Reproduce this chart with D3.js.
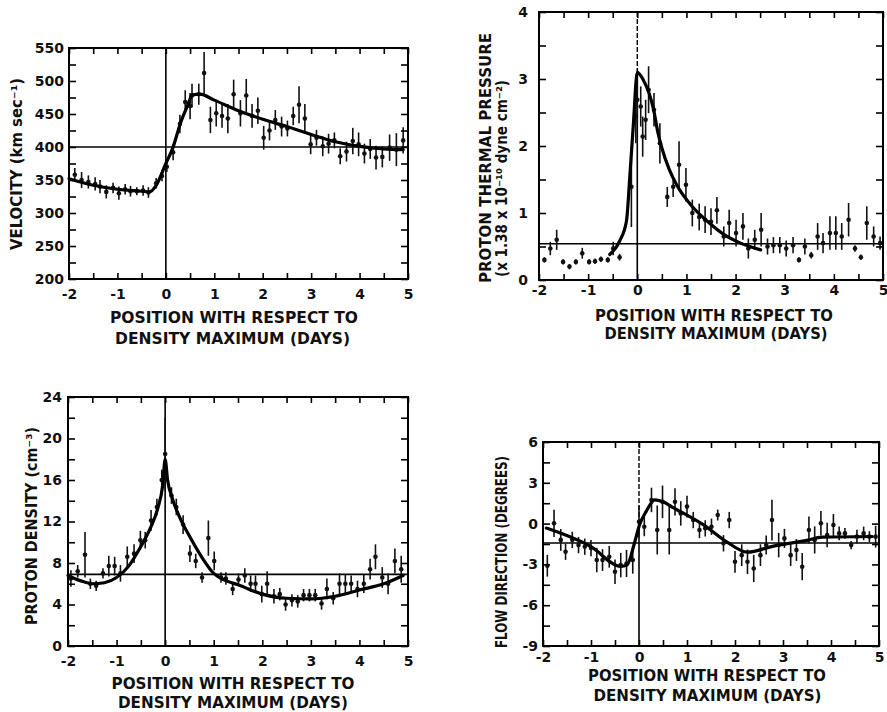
<!DOCTYPE html>
<html><head><meta charset="utf-8">
<script src="https://cdn.jsdelivr.net/npm/d3@7"></script>
<style>body{margin:0;background:#fff} svg{display:block;font-family:"DejaVu Sans",sans-serif}</style>
</head><body><svg id="c" width="887" height="712"></svg>
<script>
// ---------- shared x axis ----------
const xDomain = [-2, 5];
const xTickValues = [-2, -1, 0, 1, 2, 3, 4, 5];
const xMinorValues = [-2, -1.5, -1, -0.5, 0, 0.5, 1, 1.5, 2, 2.5, 3, 3.5, 4, 4.5, 5];
const xTitle1 = "POSITION WITH RESPECT TO";
const xTitle2 = "DENSITY MAXIMUM (DAYS)";

// ---------- velocity ----------
const velDay = [-1.88,-1.74,-1.6,-1.46,-1.36,-1.23,-1.09,-0.97,-0.84,-0.73,-0.6,-0.47,-0.36,-0.2,-0.08,0.02,0.15,0.29,0.4,0.5,0.54,0.68,0.79,0.92,1.04,1.16,1.28,1.4,1.54,1.66,1.78,1.9,2.02,2.14,2.26,2.39,2.51,2.63,2.75,2.87,2.99,3.11,3.24,3.36,3.48,3.6,3.73,3.86,3.98,4.1,4.22,4.34,4.47,4.62,4.76,4.9];
const velVal = [358,350,347,344,340,332,338,330,336,333,333,334,331,345,356,370,392,435,468,462,478,480,512,441,451,447,443,480,451,478,447,455,414,425,441,431,428,447,464,443,404,414,401,405,410,386,393,409,404,390,397,384,385,399,396,410];
const velErr = [10,12,10,10,10,10,8,10,8,8,6,8,8,8,8,8,12,14,18,20,18,16,32,20,20,18,22,22,20,25,18,20,18,15,15,15,12,14,28,22,15,12,15,15,12,12,15,20,18,15,15,18,16,20,25,20];
const velFitDay = [-2,-1.5,-1,-0.5,-0.34,-0.2,0,0.14,0.31,0.45,0.55,0.7,1,1.5,2,2.5,3,3.5,4,4.5,4.9];
const velFitVal = [352,342,336,333,332,342,375,398,438,463,479,480,471,455,442,431,419,408,401,397,396];
const velRef = 400;
const velYTicks = [200,250,300,350,400,450,500,550];
const velYMinor = d3.range(200, 551, 25);

// ---------- proton thermal pressure ----------
const presDay = [-1.89,-1.77,-1.64,-1.51,-1.38,-1.25,-1.12,-0.98,-0.86,-0.74,-0.6,-0.49,-0.36,-0.12,-0.03,0.0,0.07,0.11,0.17,0.23,0.34,0.46,0.61,0.73,0.85,0.99,1.12,1.26,1.38,1.5,1.62,1.76,1.87,2.01,2.15,2.26,2.39,2.52,2.65,2.77,2.9,3.03,3.17,3.29,3.41,3.54,3.67,3.78,3.92,4.04,4.16,4.3,4.43,4.55,4.67,4.81,4.94];
const presVal = [0.3,0.47,0.6,0.27,0.2,0.27,0.4,0.27,0.28,0.31,0.3,0.47,0.34,1.39,2.44,2.69,2.59,2.14,2.39,2.84,2.54,2.04,1.24,1.39,1.72,1.42,1.0,0.94,0.9,0.87,1.04,0.65,0.85,0.7,0.8,0.47,0.6,0.75,0.5,0.52,0.52,0.47,0.52,0.3,0.5,0.37,0.65,0.55,0.7,0.7,0.65,0.9,0.47,0.34,0.85,0.65,0.55];
const presErr = [0.04,0.1,0.15,0.04,0.04,0.04,0.08,0.04,0.04,0.04,0.04,0.1,0.05,0.6,0.4,0.35,0.3,0.3,0.3,0.35,0.25,0.3,0.15,0.15,0.35,0.25,0.2,0.2,0.2,0.2,0.2,0.15,0.2,0.2,0.2,0.15,0.15,0.25,0.12,0.12,0.12,0.12,0.12,0.04,0.12,0.05,0.2,0.15,0.25,0.25,0.2,0.25,0.05,0.04,0.25,0.15,0.1];
const presFitDay = [-0.56,-0.36,-0.22,-0.15,-0.08,0,0.12,0.33,0.42,0.5,0.65,0.8,1.15,1.42,1.76,2.1,2.51];
const presFitVal = [0.38,0.58,0.88,1.57,2.32,3.1,2.99,2.55,2.2,1.97,1.65,1.42,1.07,0.88,0.68,0.55,0.45];
const presRef = 0.54;
const presYTicks = [0,1,2,3,4];
const presYMinor = d3.range(0, 4.01, 0.5);

// ---------- proton density ----------
const densDay = [-1.94,-1.8,-1.65,-1.54,-1.42,-1.28,-1.16,-1.04,-0.92,-0.78,-0.64,-0.51,-0.41,-0.29,-0.17,-0.07,0,0.13,0.23,0.37,0.51,0.63,0.76,0.89,1.01,1.15,1.25,1.39,1.51,1.64,1.76,1.86,1.99,2.1,2.24,2.36,2.48,2.61,2.73,2.85,2.97,3.09,3.22,3.33,3.46,3.59,3.71,3.83,3.96,4.09,4.22,4.33,4.47,4.59,4.73,4.86];
const densVal = [6.5,7.2,8.8,6.0,5.8,7.0,7.7,7.7,7.0,8.6,8.9,10.2,10.2,12.1,13.4,16.0,18.5,14.5,13.4,11.7,8.9,8.2,6.6,10.4,8.2,6.6,6.5,5.5,6.4,6.8,6.0,6.0,5.0,6.0,4.8,5.0,4.0,4.4,4.3,4.9,4.9,4.9,4.1,5.5,4.6,6.0,6.0,6.0,5.5,6.0,7.4,8.6,6.6,6.0,8.2,7.4];
const densErr = [0.8,0.6,2.2,0.5,0.5,0.5,1.0,0.9,0.8,1.0,0.9,0.9,0.8,1.0,0.8,1.0,3.5,0.8,0.8,0.9,0.8,0.7,0.5,1.7,0.9,0.5,0.6,0.6,0.6,0.7,0.8,0.8,0.8,1.2,0.7,0.6,0.6,0.6,0.6,0.6,0.6,0.6,0.6,1.0,0.6,1.0,0.9,0.8,0.8,0.9,1.0,1.2,1.0,1.0,1.2,1.3];
const densFitDay = [-2,-1.75,-1.5,-1.25,-1,-0.75,-0.5,-0.3,-0.15,-0.05,0,0.05,0.15,0.3,0.5,0.75,1,1.25,1.5,2,2.5,3,3.5,4,4.5,4.9];
const densFitVal = [6.8,6.3,6.0,6.1,6.6,7.7,9.6,11.4,13.3,15.5,18.0,16.0,14.2,12.4,10.6,8.6,7.0,6.3,5.9,5.0,4.6,4.55,4.8,5.4,6.0,6.8];
const densRef = 6.9;
const densYTicks = [0,4,8,12,16,20,24];
const densYMinor = d3.range(0, 24.01, 2);

// ---------- flow direction ----------
const flowDay = [-1.91,-1.77,-1.63,-1.53,-1.39,-1.26,-1.13,-1.0,-0.88,-0.76,-0.62,-0.5,-0.38,-0.26,-0.13,0,0.11,0.26,0.38,0.49,0.63,0.75,0.87,1.0,1.13,1.26,1.38,1.51,1.64,1.76,1.88,2.0,2.14,2.26,2.39,2.53,2.65,2.77,2.91,3.03,3.16,3.28,3.4,3.54,3.66,3.79,3.92,4.05,4.17,4.29,4.42,4.54,4.68,4.8,4.93];
const flowVal = [-3.1,0.02,-1.2,-2.07,-1.2,-1.58,-1.7,-1.8,-2.68,-2.68,-2.44,-3.54,-3.05,-2.93,-2.68,0.14,-0.23,1.74,-0.47,1.6,-0.47,1.6,0.75,1.25,0.26,-0.47,-0.35,-0.23,0.63,-1.45,0.26,-2.81,-2.32,-2.81,-3.3,-2.32,-1.58,0.26,-1.58,-1.09,-2.32,-1.94,-3.17,-0.47,-1.2,0.02,-0.84,-0.1,-0.72,-0.72,-1.58,-0.96,-0.72,-0.96,-0.96];
const flowErr = [0.8,1.0,0.8,0.6,0.6,0.6,0.6,0.6,0.9,0.8,0.8,0.9,0.9,1.0,1.0,1.2,0.7,0.9,1.8,1.2,1.8,1.0,0.9,0.8,0.6,0.6,0.6,0.6,0.4,0.6,0.6,0.8,0.8,0.9,1.0,0.8,0.7,1.5,0.9,0.7,0.8,0.8,1.0,1.0,1.0,0.9,0.9,0.8,0.5,0.4,0.3,0.5,0.5,0.4,0.8];
const flowFitDay = [-1.93,-1.0,-0.38,-0.25,-0.1,0.01,0.15,0.33,0.5,0.7,1.39,1.81,2.26,2.78,3.47,3.82,4.86];
const flowFitVal = [-0.33,-1.7,-3.15,-3.05,-1.5,-0.1,0.9,1.75,1.6,1.2,-0.2,-1.3,-2.1,-1.67,-1.25,-1.0,-0.95];
const flowRef = -1.43;
const flowYTicks = [-9,-6,-3,0,3,6];
const flowYMinor = d3.range(-9, 6.01, 1.5);

// ---------- drawing ----------
const svg = d3.select("#c");
const hyphenFmt = d => String(d);

function drawPanel(p) {
  const x = d3.scaleLinear().domain(xDomain).range([p.left, p.right]);
  const y = d3.scaleLinear().domain(p.yDomain).range([p.bottom, p.top]);
  const g = svg.append("g");

  // reference lines
  g.append("line").attr("x1", x(xDomain[0])).attr("x2", x(xDomain[1]))
    .attr("y1", y(p.ref)).attr("y2", y(p.ref))
    .attr("stroke", "#000").attr("stroke-width", 1.6);
  const zeroSplit = p.dashAbove == null ? p.top : y(p.dashAbove);
  if (p.dashAbove != null) {
    g.append("line").attr("x1", x(0)).attr("x2", x(0))
      .attr("y1", p.top).attr("y2", zeroSplit)
      .attr("stroke", "#000").attr("stroke-width", 1.4)
      .attr("stroke-dasharray", "5,2");
  }
  g.append("line").attr("x1", x(0)).attr("x2", x(0))
    .attr("y1", zeroSplit).attr("y2", p.bottom)
    .attr("stroke", "#000").attr("stroke-width", 1.6);

  // data
  const n = Math.min(p.day.length, p.val.length, p.err.length);
  const pts = d3.range(n).map(i => ({d: p.day[i], v: p.val[i], e: p.err[i]}));
  g.append("g").selectAll("line").data(pts).join("line")
    .attr("x1", d => x(d.d)).attr("x2", d => x(d.d))
    .attr("y1", d => y(Math.max(p.yDomain[0], d.v - d.e)))
    .attr("y2", d => y(Math.min(p.yDomain[1], d.v + d.e)))
    .attr("stroke", "#111").attr("stroke-width", 1.6);
  g.append("g").selectAll("circle").data(pts).join("circle")
    .attr("cx", d => x(d.d)).attr("cy", d => y(d.v)).attr("r", 2.3)
    .attr("fill", "#111");

  // fitted curve
  const fit = d3.range(Math.min(p.fitDay.length, p.fitVal.length))
    .map(i => [p.fitDay[i], p.fitVal[i]]);
  g.append("path").datum(fit)
    .attr("d", d3.line().x(d => x(d[0])).y(d => y(d[1])).curve(d3.curveMonotoneX))
    .attr("fill", "none").attr("stroke", "#000").attr("stroke-width", 3.2)
    .attr("stroke-linejoin", "round").attr("stroke-linecap", "round");

  // axes (inward ticks)
  const styleAxis = sel => {
    sel.select(".domain").remove();
    sel.selectAll(".tick line").attr("stroke", "#000").attr("stroke-width", 1.6);
    sel.selectAll(".tick text").attr("fill", "#111")
      .style("font-family", "'DejaVu Sans', sans-serif")
      .style("font-size", "14px").style("font-weight", "bold");
  };
  g.append("g").attr("transform", `translate(0,${p.bottom})`)
    .call(d3.axisBottom(x).tickValues(xMinorValues).tickSize(-6).tickFormat(""))
    .call(styleAxis);
  g.append("g").attr("transform", `translate(0,${p.top})`)
    .call(d3.axisTop(x).tickValues(xMinorValues).tickSize(-6).tickFormat(""))
    .call(styleAxis);
  g.append("g").attr("transform", `translate(0,${p.bottom})`)
    .call(d3.axisBottom(x).tickValues(xTickValues).tickSize(0).tickPadding(p.xPad)
      .tickFormat(hyphenFmt))
    .call(styleAxis);
  g.append("g").attr("transform", `translate(${p.left},0)`)
    .call(d3.axisLeft(y).tickValues(p.yMinor).tickSize(-7).tickFormat(""))
    .call(styleAxis);
  g.append("g").attr("transform", `translate(${p.right},0)`)
    .call(d3.axisRight(y).tickValues(p.yMinor).tickSize(-7).tickFormat(""))
    .call(styleAxis);
  g.append("g").attr("transform", `translate(${p.left},0)`)
    .call(d3.axisLeft(y).tickValues(p.yTicks).tickSize(0).tickPadding(p.yPad)
      .tickFormat(hyphenFmt))
    .call(styleAxis);

  // frame
  g.append("rect").attr("x", p.left).attr("y", p.top)
    .attr("width", p.right - p.left).attr("height", p.bottom - p.top)
    .attr("fill", "none").attr("stroke", "#000").attr("stroke-width", 2);

  // x title
  const tstyle = t => t.attr("text-anchor", "middle").attr("fill", "#111")
    .style("font-size", "16px").style("font-weight", "bold")
    .attr("lengthAdjust", "spacingAndGlyphs");
  g.append("text").attr("x", p.xt[0]).attr("y", p.xt[1]).attr("dominant-baseline", "central")
    .attr("textLength", p.xt[2]).text(xTitle1).call(tstyle);
  g.append("text").attr("x", p.xt[3]).attr("y", p.xt[4]).attr("dominant-baseline", "central")
    .attr("textLength", p.xt[5]).text(xTitle2).call(tstyle);

  // y title(s)
  p.yt.forEach(t => {
    g.append("text")
      .attr("transform", `translate(${t.x},${t.y}) rotate(-90)`)
      .attr("dominant-baseline", "central")
      .attr("textLength", t.len).text(t.text)
      .call(tstyle).style("font-size", t.size + "px");
  });
}

drawPanel({
  left: 69, right: 408, top: 48, bottom: 279, yDomain: [200, 550],
  day: velDay, val: velVal, err: velErr, fitDay: velFitDay, fitVal: velFitVal,
  ref: velRef, yTicks: velYTicks, yMinor: velYMinor, xPad: 10, yPad: 5,
  xt: [234, 317, 248, 232.5, 338, 235],
  yt: [{x: 17, y: 164, len: 172, size: 15, text: "VELOCITY (km sec⁻¹)"}]
});
drawPanel({
  left: 539, right: 883, top: 12, bottom: 280, yDomain: [0, 4],
  day: presDay, val: presVal, err: presErr, fitDay: presFitDay, fitVal: presFitVal,
  ref: presRef, yTicks: presYTicks, yMinor: presYMinor, xPad: 5, yPad: 11,
  dashAbove: 3.15,
  xt: [714, 315, 238, 716, 333, 223],
  yt: [{x: 485, y: 158, len: 250, size: 16, text: "PROTON THERMAL PRESSURE"},
       {x: 502, y: 178.5, len: 197, size: 15, text: "(x 1.38 x 10⁻¹⁰ dyne cm⁻²)"}]
});
drawPanel({
  left: 68, right: 408, top: 397, bottom: 646, yDomain: [0, 24],
  day: densDay, val: densVal, err: densErr, fitDay: densFitDay, fitVal: densFitVal,
  ref: densRef, yTicks: densYTicks, yMinor: densYMinor, xPad: 10, yPad: 6,
  xt: [233, 683, 243, 233, 702, 230],
  yt: [{x: 31, y: 526, len: 198, size: 16, text: "PROTON DENSITY (cm⁻³)"}]
});
drawPanel({
  left: 543, right: 879, top: 442, bottom: 646, yDomain: [-9, 6],
  day: flowDay, val: flowVal, err: flowErr, fitDay: flowFitDay, fitVal: flowFitVal,
  ref: flowRef, yTicks: flowYTicks, yMinor: flowYMinor, xPad: 6, yPad: 5,
  dashAbove: 0.3,
  xt: [707, 675, 238, 707.5, 695, 228],
  yt: [{x: 502, y: 552, len: 192, size: 15, text: "FLOW DIRECTION (DEGREES)"}]
});
</script>
</body></html>
